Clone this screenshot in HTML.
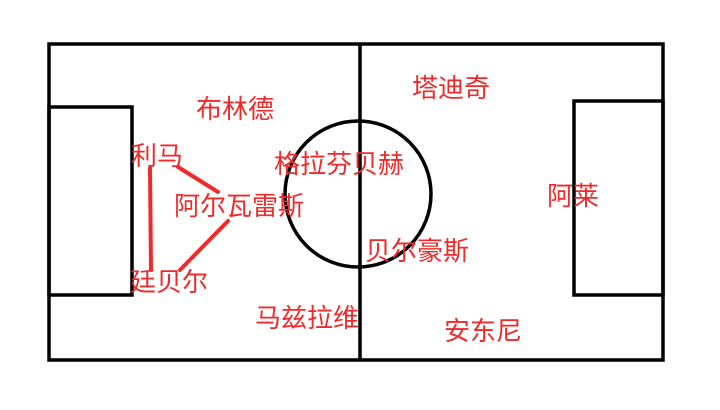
<!DOCTYPE html>
<html><head><meta charset="utf-8"><style>
html,body{margin:0;padding:0;background:#fff;}
svg{display:block;}
text{font-family:"Liberation Sans","Noto Sans CJK SC",sans-serif;font-size:26px;fill:#ee2a2a;}
</style></head><body>
<svg width="720" height="410" viewBox="0 0 720 410" xmlns="http://www.w3.org/2000/svg">
<rect x="0" y="0" width="720" height="410" fill="#fff"/>
<g fill="none" stroke="#000" stroke-width="3.5">
<rect x="49" y="44" width="614" height="316"/>
<line x1="360" y1="44" x2="360" y2="360"/>
<circle cx="358" cy="194" r="73"/>
<rect x="49" y="107" width="83" height="188"/>
<rect x="574" y="101" width="89" height="194"/>
</g>
<g stroke="#ee2a2a" stroke-width="4" stroke-linecap="round">
<line x1="150" y1="168" x2="151" y2="270"/>
<line x1="178" y1="167" x2="218" y2="192"/>
<line x1="228" y1="221" x2="180" y2="270"/>
</g>
<text x="196" y="118">布林德</text>
<text x="131" y="165">利马</text>
<text x="174" y="215">阿尔瓦雷斯</text>
<text x="130" y="291">廷贝尔</text>
<text x="274" y="173">格拉芬贝赫</text>
<text x="412" y="97">塔迪奇</text>
<text x="547" y="205">阿莱</text>
<text x="365" y="260">贝尔豪斯</text>
<text x="255" y="327">马兹拉维</text>
<text x="444" y="340">安东尼</text>
</svg>
</body></html>
